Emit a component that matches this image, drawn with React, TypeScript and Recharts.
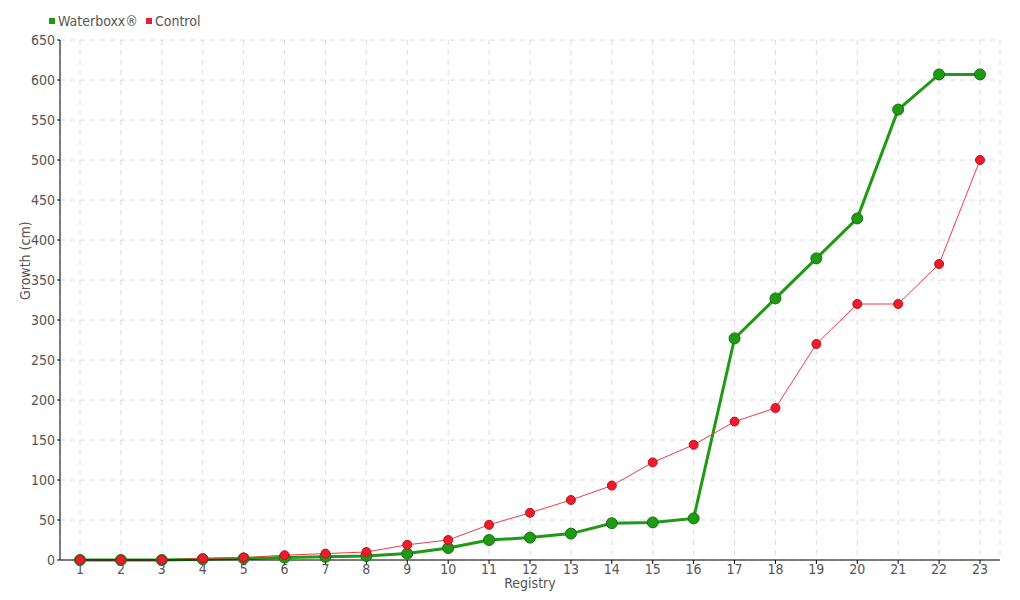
import React from "react";
import { LineChart, Line, XAxis, YAxis, CartesianGrid } from "recharts";

const registry = ["1","2","3","4","5","6","7","8","9","10","11","12","13","14","15","16","17","18","19","20","21","22","23"];
const waterboxx = [0, 0, 0, 1, 2, 3, 4, 5, 8, 15, 25, 28, 33, 46, 47, 52, 277, 327, 377, 427, 563, 607, 607];
const control = [0, 0, 0, 2, 3, 6, 8, 10, 19, 25, 44, 59, 75, 93, 122, 144, 173, 190, 270, 320, 320, 370, 500];
const yTicks = [0, 50, 100, 150, 200, 250, 300, 350, 400, 450, 500, 550, 600, 650];

const data = registry.map((r, i) => ({ registry: r, waterboxx: waterboxx[i], control: control[i] }));

const FONT = "'DejaVu Sans', sans-serif";
const GREEN = "#1f9a14";
const RED = "#ec1c2c";
const tickStyle = { fill: "#555", fontSize: 14, fontFamily: FONT, fontStretch: "condensed" } as any;

export default function App() {
  return (
    <div style={{ position: "absolute", left: 0, top: 0, width: 1020, height: 600, background: "#fff", fontFamily: FONT, fontStretch: "condensed" }}>
      <div style={{ position: "absolute", left: 49, top: 13, display: "flex", alignItems: "center", fontSize: 14, color: "#555", fontFamily: FONT, fontStretch: "condensed" }}>
        <span style={{ width: 6, height: 6, background: GREEN, display: "inline-block", marginRight: 3 }} />
        <span style={{ marginRight: 8 }}>Waterboxx®</span>
        <span style={{ width: 6, height: 6, background: RED, display: "inline-block", marginRight: 3 }} />
        <span>Control</span>
      </div>
      <LineChart width={1020} height={600} data={data} margin={{ top: 40, right: 20, bottom: 10, left: 0 }}>
        <CartesianGrid stroke="#dcdcdc" strokeDasharray="5 5" />
        <XAxis
          dataKey="registry"
          stroke="#000"
          padding={{ left: 20, right: 20 }}
          tickSize={4}
          tickMargin={0}
          height={30}
          interval={0}
          tick={tickStyle}
          label={{ value: "Registry", position: "insideBottom", offset: 2, ...tickStyle }}
        />
        <YAxis
          domain={[0, 650]}
          ticks={yTicks}
          interval={0}
          width={60}
          stroke="#000"
          tickSize={3}
          tickMargin={2}
          tick={tickStyle}
          label={{ value: "Growth (cm)", angle: -90, position: "insideLeft", offset: 25, ...tickStyle }}
        />
        <Line
          type="linear"
          dataKey="waterboxx"
          stroke={GREEN}
          strokeWidth={3}
          dot={{ r: 5.5, fill: GREEN, stroke: "#157010", strokeWidth: 1 }}
          activeDot={false}
          isAnimationActive={false}
        />
        <Line
          type="linear"
          dataKey="control"
          stroke="#f03a48"
          strokeWidth={1}
          dot={{ r: 4.5, fill: RED, stroke: "#c01020", strokeWidth: 1 }}
          activeDot={false}
          isAnimationActive={false}
        />
      </LineChart>
    </div>
  );
}
